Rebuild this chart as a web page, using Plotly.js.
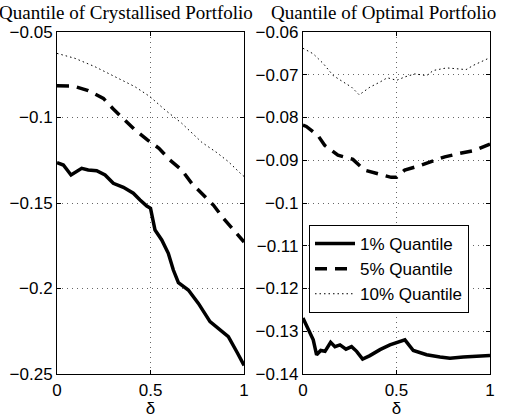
<!DOCTYPE html>
<html>
<head>
<meta charset="utf-8">
<script src="https://cdn.plot.ly/plotly-3.0.1.min.js"></script>
<style>html,body{margin:0;padding:0;background:#fff;}#chart{width:506px;height:418px;}</style>
</head>
<body>
<div id="chart"></div>
<script>
// Crystallised portfolio quantiles (left panel)
var crysDelta1 = [0, 0.034, 0.075, 0.09, 0.132, 0.167, 0.212, 0.257, 0.301, 0.355, 0.408, 0.444, 0.48, 0.5, 0.524, 0.56, 0.595, 0.622, 0.649, 0.702, 0.756, 0.818, 0.863, 0.916, 0.961, 1];
var crysQ1 = [-0.1264, -0.1278, -0.1336, -0.1326, -0.1297, -0.1307, -0.1311, -0.1336, -0.1385, -0.1408, -0.1443, -0.1482, -0.1518, -0.1531, -0.1658, -0.1716, -0.1794, -0.1892, -0.1966, -0.2009, -0.2087, -0.2194, -0.2233, -0.2282, -0.237, -0.245];
var crysDelta5 = [0, 0.087, 0.167, 0.248, 0.301, 0.36, 0.417, 0.485, 0.545, 0.604, 0.667, 0.72, 0.774, 0.836, 0.89, 0.943, 1];
var crysQ5 = [-0.0815, -0.0816, -0.0843, -0.0888, -0.095, -0.1011, -0.1073, -0.1132, -0.118, -0.1249, -0.1307, -0.1385, -0.1443, -0.1512, -0.159, -0.1658, -0.1728];
var crysDelta10 = [0, 0.096, 0.203, 0.31, 0.417, 0.497, 0.578, 0.667, 0.774, 0.854, 0.916, 0.979, 1];
var crysQ10 = [-0.0625, -0.0654, -0.0703, -0.0761, -0.082, -0.0878, -0.0956, -0.1034, -0.1145, -0.1205, -0.1258, -0.1325, -0.1345];

// Optimal portfolio quantiles (right panel)
var optDelta1 = [0, 0.028, 0.055, 0.073, 0.095, 0.118, 0.148, 0.171, 0.198, 0.23, 0.26, 0.287, 0.319, 0.358, 0.412, 0.465, 0.501, 0.545, 0.59, 0.661, 0.733, 0.786, 0.857, 0.929, 1];
var optQ1 = [-0.1269, -0.1293, -0.132, -0.1355, -0.1345, -0.1347, -0.1326, -0.1336, -0.1332, -0.1342, -0.1336, -0.1347, -0.1365, -0.1357, -0.1343, -0.1332, -0.1326, -0.132, -0.1345, -0.1355, -0.136, -0.1363, -0.136, -0.1359, -0.1357];
var optDelta5 = [0, 0.018, 0.08, 0.116, 0.187, 0.267, 0.329, 0.392, 0.472, 0.5, 0.544, 0.615, 0.686, 0.758, 0.838, 0.918, 1];
var optQ5 = [-0.0818, -0.0821, -0.0842, -0.0865, -0.0888, -0.0898, -0.0923, -0.093, -0.094, -0.094, -0.0923, -0.0914, -0.0904, -0.0892, -0.0884, -0.0877, -0.0862];
var optDelta10 = [0, 0.055, 0.109, 0.162, 0.216, 0.26, 0.301, 0.358, 0.412, 0.451, 0.501, 0.545, 0.599, 0.661, 0.697, 0.768, 0.822, 0.872, 0.911, 0.961, 1];
var optQ10 = [-0.0638, -0.0651, -0.0674, -0.0702, -0.0717, -0.0729, -0.0747, -0.0729, -0.0717, -0.0707, -0.0713, -0.0705, -0.0698, -0.0702, -0.069, -0.0684, -0.0686, -0.0688, -0.0678, -0.0667, -0.066];

// Labels
var seriesNames = ['1% Quantile', '5% Quantile', '10% Quantile'];
var panelTitles = ['Quantile of Crystallised Portfolio', 'Quantile of Optimal Portfolio'];
var xTickVals = [0, 0.5, 1];
var xTickText = ['0', '0.5', '1'];
var leftYTickVals = [-0.25, -0.2, -0.15, -0.1, -0.05];
var leftYTickText = ['\u22120.25', '\u22120.2', '\u22120.15', '\u22120.1', '\u22120.05'];
var rightYTickVals = [-0.14, -0.13, -0.12, -0.11, -0.1, -0.09, -0.08, -0.07, -0.06];
var rightYTickText = ['\u22120.14', '\u22120.13', '\u22120.12', '\u22120.11', '\u22120.1', '\u22120.09', '\u22120.08', '\u22120.07', '\u22120.06'];
var xLabel = '\u03b4';

var solid = {color: '#000', width: 3.5, dash: 'solid'};
var dashed = {color: '#000', width: 3.5, dash: '12px,8px'};
var dotted = {color: '#000', width: 1, dash: '1.5px,3px'};

var traces = [
  {x: crysDelta1, y: crysQ1, xaxis: 'x', yaxis: 'y', mode: 'lines', line: solid, name: seriesNames[0], showlegend: false},
  {x: crysDelta5, y: crysQ5, xaxis: 'x', yaxis: 'y', mode: 'lines', line: dashed, name: seriesNames[1], showlegend: false},
  {x: crysDelta10, y: crysQ10, xaxis: 'x', yaxis: 'y', mode: 'lines', line: dotted, name: seriesNames[2], showlegend: false},
  {x: optDelta1, y: optQ1, xaxis: 'x2', yaxis: 'y2', mode: 'lines', line: solid, name: seriesNames[0]},
  {x: optDelta5, y: optQ5, xaxis: 'x2', yaxis: 'y2', mode: 'lines', line: dashed, name: seriesNames[1]},
  {x: optDelta10, y: optQ10, xaxis: 'x2', yaxis: 'y2', mode: 'lines', line: dotted, name: seriesNames[2]}
];

var tickFont = {family: 'Liberation Sans, Arial, sans-serif', size: 17, color: '#000'};
function axisBase() {
  return {
    showline: true, linecolor: '#000', linewidth: 1, mirror: 'allticks',
    ticks: 'inside', ticklen: 4, tickcolor: '#000', tickwidth: 1,
    showgrid: true, gridcolor: '#666', griddash: '1px,4px', gridwidth: 1,
    zeroline: false, tickfont: tickFont, fixedrange: true, tickmode: 'array'
  };
}
var xTitleFont = {family: 'Liberation Sans, Arial, sans-serif', size: 17, color: '#000'};
var xa = Object.assign(axisBase(), {domain: [0, 0.432], range: [0, 1], tickvals: xTickVals, ticktext: xTickText, ticklabelstandoff: 1,
  title: {text: xLabel, font: xTitleFont, standoff: 5}});
var xa2 = Object.assign(axisBase(), {domain: [0.568, 1], range: [0, 1], tickvals: xTickVals, ticktext: xTickText, anchor: 'y2', ticklabelstandoff: 1,
  title: {text: xLabel, font: xTitleFont, standoff: 5}});
var ya = Object.assign(axisBase(), {range: [-0.25, -0.05], tickvals: leftYTickVals, ticktext: leftYTickText});
var ya2 = Object.assign(axisBase(), {range: [-0.14, -0.06], tickvals: rightYTickVals, ticktext: rightYTickText, anchor: 'x2'});

var titleFont = {family: 'Liberation Serif, Times New Roman, serif', size: 19, color: '#000'};
var layout = {
  width: 506, height: 418,
  margin: {l: 57, r: 16, t: 32, b: 44},
  paper_bgcolor: '#fff', plot_bgcolor: '#fff',
  xaxis: xa, yaxis: ya, xaxis2: xa2, yaxis2: ya2,
  showlegend: true,
  legend: {x: 0.582, y: 0.4357, xanchor: 'left', yanchor: 'top', bgcolor: '#fff', bordercolor: '#000', borderwidth: 1,
    itemwidth: 40,
    font: {family: 'Liberation Sans, Arial, sans-serif', size: 17, color: '#000'}},
  annotations: [
    {text: panelTitles[0], xref: 'paper', yref: 'paper', x: 0.159, y: 1.058, xanchor: 'center', yanchor: 'middle', showarrow: false, font: titleFont},
    {text: panelTitles[1], xref: 'paper', yref: 'paper', x: 0.753, y: 1.058, xanchor: 'center', yanchor: 'middle', showarrow: false, font: titleFont}
  ]
};
Plotly.newPlot('chart', traces, layout, {displayModeBar: false, staticPlot: true});
</script>
</body>
</html>
